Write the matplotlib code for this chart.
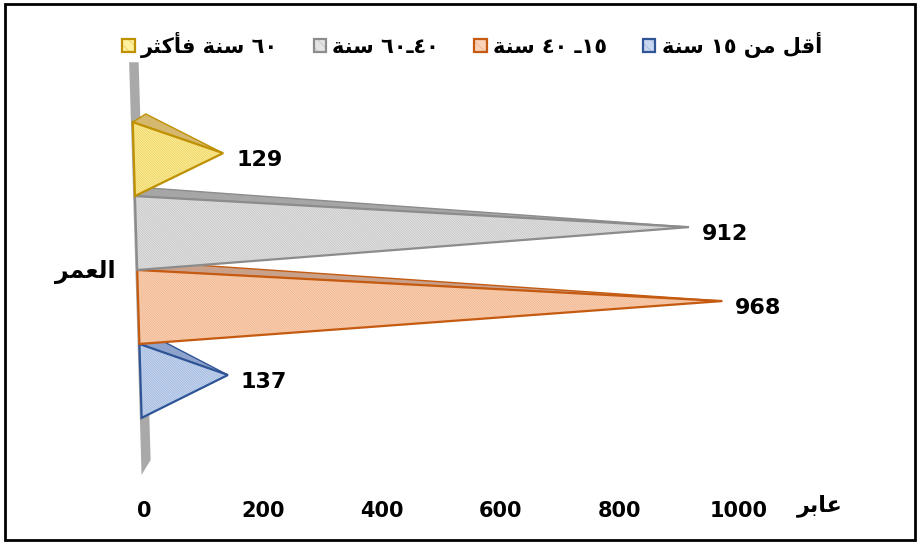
import matplotlib
matplotlib.use("Agg")
import matplotlib.pyplot as plt
from matplotlib.patches import Polygon, Patch, Rectangle
from matplotlib.legend_handler import HandlerTuple
from matplotlib.transforms import ScaledTranslation

# Arabic strings are stored as presentation forms in visual (left-to-right) order
series_labels = [
    "\uFE94\uFEE8\uFEB3 \u0661\u0665 \uFEE6\uFEE3 \uFEDE\uFED7\uFE83",   # أقل من ١٥ سنة
    "\uFE94\uFEE8\uFEB3 \u0664\u0660 \u0640\u0661\u0665",               # ١٥- ٤٠ سنة
    "\uFE94\uFEE8\uFEB3 \u0666\u0660\u0640\u0664\u0660",                # ٤٠-٦٠ سنة
    "\uFEAE\uFE9C\uFEDB\uFE84\uFED3 \uFE94\uFEE8\uFEB3 \u0666\u0660",   # ٦٠ سنة فأكثر
]
values = [137, 968, 912, 129]
category_label = "\uFEAE\uFEE4\uFECC\uFEDF\uFE8D"   # العمر
value_label = "\uFEAE\uFE91\uFE8E\uFECB"            # عابر
x_ticks = [0, 200, 400, 600, 800, 1000]

face_colors = ["#C9D8F0", "#FAD3B8", "#E4E4E4", "#FFF0A0"]
hatch_colors = ["#A3B9DF", "#F0B68F", "#C6C6C6", "#EBD262"]
edge_colors = ["#2F5597", "#C55A11", "#8C8C8C", "#BF9000"]
top_colors = ["#8EA3CB", "#C9A089", "#A6A6A6", "#D5B86E"]

plt.rcParams["hatch.linewidth"] = 0.6
plt.rcParams["font.family"] = ["DejaVu Sans"]

W, H = 920, 545
fig = plt.figure(figsize=(W / 100, H / 100), dpi=100)
# plot area in pixels: x 122..824, y 60..480
ax = fig.add_axes([122 / W, 1 - 480 / H, 702 / W, 420 / H])
ax.set_xlim(-30, 1150)
ax.set_ylim(-2.84, 2.84)

# pseudo-3D geometry (data units)
depth_x, depth_y = 22, 0.11
tip_lift = 0.08


def base_x(y):
    # the back wall leans slightly: base moves right toward the bottom
    return -4.5 - 3.75 * y


# back wall
wt, wb_l, wb_r = 2.81, -2.77, -2.57
wall = Polygon([(base_x(wt) - 3, wt), (base_x(wt) + 13, wt),
                (base_x(wb_r) + 13, wb_r), (base_x(wb_l) - 3, wb_l)],
               closed=True, facecolor="#A9A9A9", edgecolor="none", zorder=1)
ax.add_patch(wall)

for i, v in enumerate(values):
    yc = i - 1.5
    y_top, y_bot = yc + 0.5, yc - 0.5
    tip = (v + depth_x / 2, yc + tip_lift)
    p_tl = (base_x(y_top), y_top)
    p_bl = (base_x(y_bot), y_bot)
    p_back = (base_x(y_top) + depth_x, y_top + depth_y)

    top_face = Polygon([p_tl, p_back, tip], closed=True,
                       facecolor=top_colors[i], edgecolor=edge_colors[i],
                       linewidth=1.0, zorder=2 + i)
    ax.add_patch(top_face)
    front_fill = Polygon([p_tl, p_bl, tip], closed=True,
                         facecolor=face_colors[i], edgecolor=hatch_colors[i],
                         hatch="\\" * 14, linewidth=0, zorder=2 + i)
    ax.add_patch(front_fill)
    front_edge = Polygon([p_tl, p_bl, tip], closed=True, fill=False,
                         edgecolor=edge_colors[i], linewidth=1.6, zorder=2 + i)
    ax.add_patch(front_edge)

    ax.annotate(f"{v}", xy=tip, xytext=(13, -7), textcoords="offset pixels",
                ha="left", va="center", fontsize=16, fontweight="bold",
                color="black", zorder=10)

# axes styling
for s in ax.spines.values():
    s.set_visible(False)
ax.set_yticks([])
ax.set_xticks(x_ticks)
ax.set_xticklabels([str(t) for t in x_ticks], fontsize=15, fontweight="bold")
ax.tick_params(axis="x", length=0, pad=15)
shift = ScaledTranslation(4 / 100, 0, fig.dpi_scale_trans)
for lbl in ax.get_xticklabels():
    lbl.set_transform(lbl.get_transform() + shift)

fig.text(85 / W, 1 - 272 / H, category_label, ha="center", va="center",
         fontsize=17, fontweight="bold")
fig.text(820 / W, 1 - 506 / H, value_label, ha="center", va="center",
         fontsize=16, fontweight="bold")

# legend (entries ordered right-to-left)
handles, labels = [], []
for i in [3, 2, 1, 0]:
    hf = Patch(facecolor=face_colors[i], edgecolor=hatch_colors[i],
               hatch="\\\\\\", linewidth=0)
    he = Patch(fill=False, edgecolor=edge_colors[i], linewidth=1.6)
    handles.append((hf, he))
    labels.append(series_labels[i])
leg = fig.legend(handles, labels, loc="center", ncol=4,
                 bbox_to_anchor=(472 / W, 1 - 45 / H), frameon=False,
                 handler_map={tuple: HandlerTuple(ndivide=1, pad=0)},
                 prop={"size": 15, "weight": "bold"},
                 handlelength=0.6, handleheight=0.6, handletextpad=0.3,
                 columnspacing=1.7)

# chart border
fig.add_artist(Rectangle((5 / W, 1 - 540 / H), 910 / W, 536 / H,
                         transform=fig.transFigure, fill=False,
                         edgecolor="black", linewidth=2))

fig.savefig("out.png", dpi=100)
